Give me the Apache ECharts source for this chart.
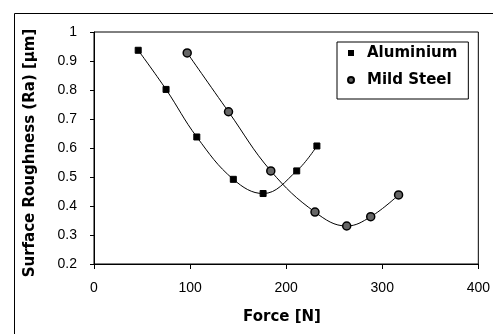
<!DOCTYPE html>
<html><head><meta charset="utf-8">
<script src="https://cdn.jsdelivr.net/npm/echarts@6/dist/echarts.min.js"></script>
<style>html,body{margin:0;padding:0;background:#fff}#c{width:493px;height:334px}</style>
</head><body><div id="c"></div>
<script>
const aluForce = [46, 75, 107, 145, 176, 211, 232];
const aluRa = [0.937, 0.802, 0.638, 0.492, 0.443, 0.521, 0.607];
const steelForce = [97, 140, 184, 230, 263, 288, 317];
const steelRa = [0.928, 0.725, 0.521, 0.379, 0.331, 0.363, 0.438];
const seriesNames = ['Aluminium', 'Mild Steel'];
const xTitle = 'Force [N]';
const yTitle = 'Surface Roughness (Ra) [μm]';

const chart = echarts.init(document.getElementById('c'));
const zip = (a, b) => a.map((v, i) => [v, b[i]]);
const tickFont = 'Liberation Sans, Arial, sans-serif';
const boldFont = 'DejaVu Sans, sans-serif';
chart.setOption({
  animation: false,
  backgroundColor: '#fff',
  grid: {left: 94, right: 7, top: 32, bottom: 70, show: true, borderColor: '#000', borderWidth: 1},
  legend: {
    orient: 'vertical', left: 337, top: 42,
    borderColor: '#000', borderWidth: 1, padding: [2, 11, 10, 10],
    itemGap: 9, itemWidth: 6, itemHeight: 6,
    textStyle: {fontFamily: boldFont, fontSize: 15, fontWeight: 'bold', color: '#000', lineHeight: 18, padding: [0, 0, 0, 8]},
    data: [{name: seriesNames[0], icon: 'rect'}, {name: seriesNames[1], icon: 'circle'}]
  },
  xAxis: {
    type: 'value', min: 0, max: 400, interval: 100,
    axisLine: {lineStyle: {color: '#000', width: 1}},
    axisTick: {show: true, length: 5, lineStyle: {color: '#000'}},
    axisLabel: {fontFamily: tickFont, fontSize: 14, color: '#000', margin: 17},
    splitLine: {show: false}
  },
  yAxis: {
    type: 'value', min: 0.2, max: 1, interval: 0.1,
    axisLine: {show: true, lineStyle: {color: '#000', width: 1}},
    axisTick: {show: true, length: 4, lineStyle: {color: '#000'}},
    axisLabel: {fontFamily: tickFont, fontSize: 14, color: '#000', margin: 17,
      formatter: v => (Math.round(v * 10) / 10).toString()},
    splitLine: {show: false}
  },
  graphic: [
    {type: 'rect', left: 12, top: 11, shape: {width: 500, height: 340}, style: {fill: 'none', stroke: '#000', lineWidth: 1}, silent: true, z: -1},
    {type: 'text', x: 30, y: 153, rotation: Math.PI / 2,
      style: {text: yTitle, font: 'bold 15px ' + boldFont, fill: '#000', textAlign: 'center', textVerticalAlign: 'middle'}},
    {type: 'text', x: 282, y: 317,
      style: {text: xTitle, font: 'bold 15px ' + boldFont, fill: '#000', textAlign: 'center', textVerticalAlign: 'middle'}}
  ],
  series: [
    {name: seriesNames[0], type: 'line', smooth: 0.4, data: zip(aluForce, aluRa),
      symbol: 'rect', symbolSize: 6, showAllSymbol: true,
      itemStyle: {color: '#000', borderColor: '#000'}, lineStyle: {color: '#000', width: 1}},
    {name: seriesNames[1], type: 'line', smooth: 0.4, data: zip(steelForce, steelRa),
      symbol: 'circle', symbolSize: 8, showAllSymbol: true,
      itemStyle: {color: '#666', borderColor: '#000', borderWidth: 1.5}, lineStyle: {color: '#000', width: 1}}
  ]
});
</script></body></html>
